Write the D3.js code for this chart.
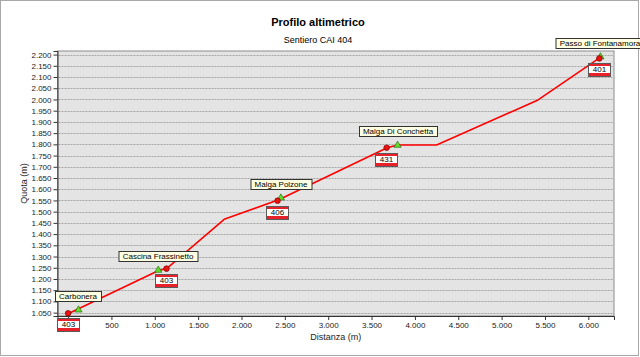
<!DOCTYPE html>
<html lang="it">
<head>
<meta charset="utf-8">
<title>Profilo altimetrico</title>
<script src="https://d3js.org/d3.v7.min.js"></script>
<style>
  body { margin: 0; background: #fff; }
  svg { display: block; font-family: "Liberation Sans", Arial, sans-serif; }
  .tick text { font-size: 8px; fill: #222; }
  .title { font-size: 11px; font-weight: bold; }
  .sub { font-size: 9px; }
  .axt { font-size: 9px; fill: #222; }
  .lbl { font-size: 8px; }
</style>
</head>
<body>
<svg id="chart" width="640" height="357"></svg>
<script>
// track profile
const profDist = [0, 1045, 1140, 1800, 2430, 3680, 3800, 4250, 5420, 6130];
const profElev = [1045, 1238, 1247, 1466, 1553, 1785, 1797, 1797, 1998, 2185];

// waypoints
const wpNames = ["Carbonera", "Cascina Frassinetto", "Malga Polzone", "Malga Di Conchetta", "Passo di Fontanamora"];
const wpTrail = ["403", "403", "406", "431", "401"];
const wpDist = [0, 1135, 2416, 3674, 6127];
const wpElev = [1047, 1246, 1549, 1785, 2183];
const triDist = [120, 1040, 2454, 3800, 6140];
const triElev = [1062, 1239, 1561, 1796, 2190];

const xTicks = d3.range(0, 6001, 500);
const yTicks = d3.range(1050, 2201, 50);

const svg = d3.select("#chart");
const L = 57.5, R = 614, T = 51, B = 316;

const x = d3.scaleLinear().domain([-122, 6296]).range([L, R]);
const y = d3.scaleLinear().domain([1035, 2216]).range([B, T]);

const it = d3.formatLocale({decimal: ",", thousands: ".", grouping: [3], currency: ["€", ""]});
const fmt = it.format(",");

// outer frame
svg.append("rect").attr("x", 0.5).attr("y", 0.5).attr("width", 638).attr("height", 355)
   .attr("fill", "#fff").attr("stroke", "#a8a8a8");

svg.append("text").attr("class", "title").attr("x", 318).attr("y", 26)
   .attr("text-anchor", "middle").text("Profilo altimetrico");
svg.append("text").attr("class", "sub").attr("x", 318).attr("y", 43)
   .attr("text-anchor", "middle").text("Sentiero CAI 404");

// plot area
svg.append("rect").attr("x", L).attr("y", T).attr("width", R - L).attr("height", B - T)
   .attr("fill", "#e4e4e4").attr("stroke", "#8c8c8c");

svg.append("g").selectAll("line").data(yTicks).join("line")
   .attr("x1", L + 1).attr("x2", R - 1)
   .attr("y1", d => Math.round(y(d)) + 0.5).attr("y2", d => Math.round(y(d)) + 0.5)
   .attr("stroke", "#a6a6a6").attr("stroke-dasharray", "2,1");

const yAxis = svg.append("g").attr("transform", `translate(${L},0)`)
   .call(d3.axisLeft(y).tickValues(yTicks).tickFormat(fmt).tickSize(4).tickPadding(2));
// the 0 label sits under the first trail flag
const xAxis = svg.append("g").attr("transform", `translate(0,${B})`)
   .call(d3.axisBottom(x).tickValues(xTicks).tickFormat(d => d === 0 ? "" : fmt(d)).tickSize(4).tickPadding(2));
[yAxis, xAxis].forEach(a => {
  a.select(".domain").attr("stroke", "#333");
  a.selectAll(".tick line").attr("stroke", "#333");
});

svg.append("text").attr("class", "axt")
   .attr("transform", `translate(27,${(T + B) / 2}) rotate(-90)`)
   .attr("text-anchor", "middle").text("Quota (m)");
svg.append("text").attr("class", "axt").attr("x", (L + R) / 2).attr("y", 340)
   .attr("text-anchor", "middle").text("Distanza (m)");

// profile line
const line = d3.line().x(i => x(profDist[i])).y(i => y(profElev[i]));
svg.append("path").attr("d", line(d3.range(profDist.length)))
   .attr("fill", "none").attr("stroke", "#ff0000").attr("stroke-width", 1.6)
   .attr("stroke-linejoin", "round");

const idx = d3.range(wpNames.length);

// green triangles
svg.append("g").selectAll("path").data(idx).join("path")
   .attr("transform", i => `translate(${x(triDist[i])},${y(triElev[i])})`)
   .attr("d", d3.symbol(d3.symbolTriangle, 22))
   .attr("fill", "#5fe02a").attr("stroke", "#2a6e10").attr("stroke-width", 0.7);

// red circles
svg.append("g").selectAll("circle").data(idx).join("circle")
   .attr("cx", i => x(wpDist[i])).attr("cy", i => y(wpElev[i])).attr("r", 2.8)
   .attr("fill", "#ee1111").attr("stroke", "#7a0000").attr("stroke-width", 0.7);

// CAI trail flags
const flags = svg.append("g").selectAll("g").data(idx).join("g")
   .attr("transform", i => `translate(${Math.round(x(wpDist[i]) - 11.5)},${Math.round(y(wpElev[i]) + 5)})`);
flags.append("rect").attr("x", 0.5).attr("y", 0.5).attr("width", 22).attr("height", 13)
   .attr("fill", "#e8202a").attr("stroke", "#5a5a5a");
flags.append("rect").attr("x", 1).attr("y", 3).attr("width", 21).attr("height", 7).attr("fill", "#fff");
flags.append("text").attr("class", "lbl").attr("x", 11.5).attr("y", 9.3)
   .attr("text-anchor", "middle").text(i => wpTrail[i]);

// name labels
const labs = svg.append("g").selectAll("g").data(idx).join("g")
   .attr("transform", i => `translate(${Math.round(x(triDist[i]))},${Math.round(y(triElev[i]) - 19)})`);
labs.append("rect").attr("fill", "#ffffe1").attr("stroke", "#333");
labs.append("text").attr("class", "lbl").attr("text-anchor", "middle").attr("y", 7.8)
   .text(i => wpNames[i]);
labs.each(function () {
  const g = d3.select(this);
  const w = Math.round(g.select("text").node().getComputedTextLength()) + 8;
  g.select("rect").attr("x", -w / 2 + 0.5).attr("y", 0.5).attr("width", w).attr("height", 10);
});
</script>
</body>
</html>
